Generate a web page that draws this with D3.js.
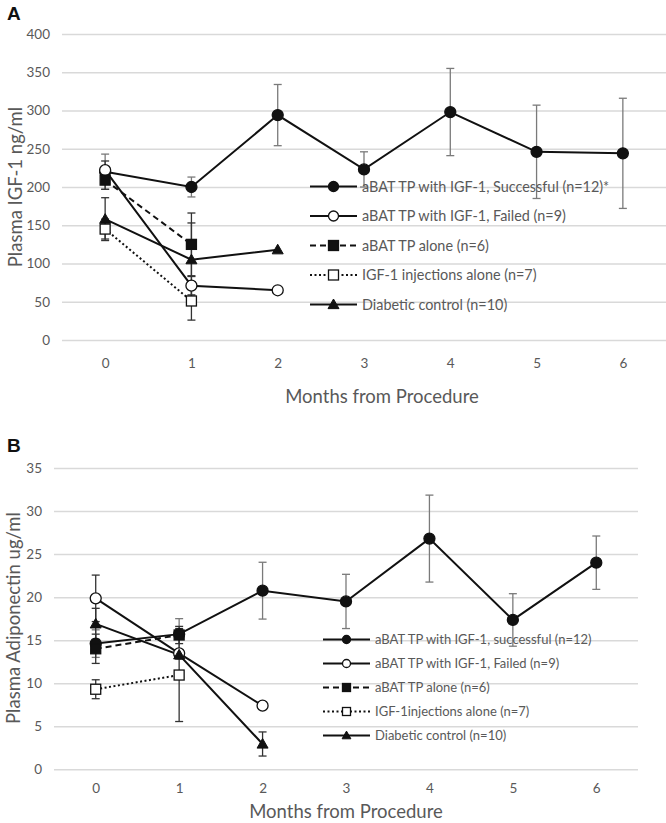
<!DOCTYPE html>
<html>
<head>
<meta charset="utf-8">
<script src="https://cdn.jsdelivr.net/npm/d3@7"></script>
<style>
  html, body { margin: 0; padding: 0; background: #fff; }
  svg { display: block; }
  text { font-family: Lato, "Open Sans", sans-serif; }
</style>
</head>
<body>
<svg id="chart" width="666" height="823"></svg>
<script>
// ---------- DATA ----------
const months = [0, 1, 2, 3, 4, 5, 6];
const seriesKeys = ["successful", "failed", "alone", "injections", "diabetic"];

// Panel A: Plasma IGF-1 ng/ml
const yTicksA = [0, 50, 100, 150, 200, 250, 300, 350, 400];
const legendA = [
  "aBAT TP with IGF-1, Successful (n=12)*",
  "aBAT TP with IGF-1, Failed (n=9)",
  "aBAT TP alone (n=6)",
  "IGF-1 injections alone (n=7)",
  "Diabetic control (n=10)"
];
const successfulA = [220, 200, 294, 223, 298, 246, 244];
const successfulErrA = [23, 13, 40, 23, 57, 61, 72];
const failedA = [222, 71, 65];
const failedErrA = [12, 12, null];
const aloneA = [209, 125];
const aloneErrA = [12, 41];
const injectionsA = [145, 51];
const injectionsErrA = [13, 25];
const diabeticA = [158, 105, 118];
const diabeticErrA = [28, 48, null];

// Panel B: Plasma Adiponectin ug/ml
const yTicksB = [0, 5, 10, 15, 20, 25, 30, 35];
const legendB = [
  "aBAT TP with IGF-1, successful (n=12)",
  "aBAT TP with IGF-1, Failed (n=9)",
  "aBAT TP alone (n=6)",
  "IGF-1injections alone (n=7)",
  "Diabetic control (n=10)"
];
const successfulB = [14.6, 15.7, 20.75, 19.5, 26.8, 17.35, 24.0];
const successfulErrB = [1.6, 1.8, 3.3, 3.15, 5.05, 3.05, 3.1];
const failedB = [19.86, 13.47, 7.39];
const failedErrB = [2.7, null, null];
const aloneB = [14.0, 15.6];
const aloneErrB = [1.7, 1.0];
const injectionsB = [9.3, 10.95];
const injectionsErrB = [1.1, 5.4];
const diabeticB = [16.9, 13.3, 2.94];
const diabeticErrB = [1.8, 0.5, 1.4];

const xTitle = "Months from Procedure";

// ---------- STYLE PER SERIES ----------
const styles = {
  successful: { marker: "circle", fill: "#111", dash: null, err: "#7a7a7a" },
  failed:     { marker: "circle", fill: "#fff", dash: null, err: "#333" },
  alone:      { marker: "square", fill: "#111", dash: "6,4", err: "#333" },
  injections: { marker: "square", fill: "#fff", dash: "2,2.5", err: "#333" },
  diabetic:   { marker: "triangle", fill: "#111", dash: null, err: "#333" }
};

const svg = d3.select("#chart");

function drawMarker(g, type, cx, cy, fill, s) {
  if (type === "circle") {
    g.append("circle").attr("cx", cx).attr("cy", cy).attr("r", s)
      .attr("fill", fill).attr("stroke", "#111").attr("stroke-width", 1.3);
  } else if (type === "square") {
    g.append("rect").attr("x", cx - s).attr("y", cy - s)
      .attr("width", 2 * s).attr("height", 2 * s)
      .attr("fill", fill).attr("stroke", "#111").attr("stroke-width", 1.3);
  } else {
    const h = s * 1.1;
    g.append("path")
      .attr("d", `M${cx},${cy - h}L${cx + h},${cy + h * 0.75}L${cx - h},${cy + h * 0.75}Z`)
      .attr("fill", fill).attr("stroke", "#111").attr("stroke-width", 1);
  }
}

function drawPanel(cfg) {
  const g = svg.append("g");
  const x = d3.scalePoint().domain(months).range([cfg.left, cfg.right]).padding(0.5);
  const y = d3.scaleLinear().domain(cfg.yDomain).range([cfg.bottom, cfg.top]);

  // gridlines + y labels
  const ya = g.append("g").attr("transform", `translate(${cfg.left},0)`)
    .call(d3.axisLeft(y).tickValues(cfg.yTicks).tickSize(-(cfg.gridRight - cfg.left)).tickPadding(cfg.yPad));
  ya.select(".domain").remove();
  ya.selectAll(".tick line").attr("stroke", "#d9d9d9").attr("stroke-width", 1.5);
  ya.selectAll(".tick text").attr("fill", "#595959").style("font-size", cfg.tickFont + "px")
    .style("font-family", "Lato, sans-serif");

  // x labels
  const xa = g.append("g").attr("transform", `translate(0,${cfg.bottom})`)
    .call(d3.axisBottom(x).tickSize(0).tickPadding(cfg.xPad));
  xa.select(".domain").remove();
  xa.selectAll(".tick text").attr("fill", "#595959").style("font-size", cfg.tickFont + "px")
    .style("font-family", "Lato, sans-serif");

  // titles
  g.append("text").attr("x", cfg.xTitleX).attr("y", cfg.xTitleY).attr("text-anchor", "middle")
    .attr("fill", "#595959").style("font-size", cfg.titleFont + "px").text(xTitle);
  g.append("text").attr("transform", `translate(${cfg.yTitleX},${cfg.yTitleY}) rotate(-90)`)
    .attr("text-anchor", "middle").attr("fill", "#595959")
    .style("font-size", cfg.titleFont + "px").text(cfg.yTitle);
  g.append("text").attr("x", cfg.labelX).attr("y", cfg.labelY)
    .style("font-family", "'Liberation Sans', Arial, sans-serif").style("font-weight", "bold")
    .style("font-size", "19px").attr("fill", "#111").text(cfg.label);

  // error bars
  seriesKeys.forEach(k => {
    const vals = cfg.data[k], errs = cfg.err[k], st = styles[k];
    vals.forEach((v, i) => {
      const e = errs[i];
      if (v == null || e == null) return;
      const cx = x(months[i]);
      const eg = g.append("g").attr("stroke", st.err).attr("stroke-width", 1.3);
      eg.append("line").attr("x1", cx).attr("x2", cx).attr("y1", y(v - e)).attr("y2", y(v + e));
      [v - e, v + e].forEach(t => eg.append("line")
        .attr("x1", cx - 4).attr("x2", cx + 4).attr("y1", y(t)).attr("y2", y(t)));
    });
  });

  // lines
  seriesKeys.forEach(k => {
    const vals = cfg.data[k], st = styles[k];
    const pts = vals.map((v, i) => [months[i], v]).filter(p => p[1] != null);
    g.append("path").datum(pts)
      .attr("d", d3.line().x(p => x(p[0])).y(p => y(p[1])))
      .attr("fill", "none").attr("stroke", "#111").attr("stroke-width", 2)
      .attr("stroke-dasharray", st.dash);
  });

  // markers
  seriesKeys.forEach(k => {
    const vals = cfg.data[k], st = styles[k];
    vals.forEach((v, i) => {
      if (v == null) return;
      drawMarker(g, st.marker, x(months[i]), y(v), st.fill, st.marker === "circle" ? cfg.ms : cfg.ms - 0.5);
    });
  });

  // legend
  cfg.legend.forEach((txt, i) => {
    const k = seriesKeys[i], st = styles[k];
    const ly = cfg.legY + i * cfg.legStep;
    g.append("line").attr("x1", cfg.legX).attr("x2", cfg.legX + cfg.legLen)
      .attr("y1", ly).attr("y2", ly).attr("stroke", "#111").attr("stroke-width", 2)
      .attr("stroke-dasharray", st.dash);
    drawMarker(g, st.marker, cfg.legX + cfg.legLen / 2, ly, st.fill, cfg.legMs);
    g.append("text").attr("x", cfg.legX + cfg.legLen + 5).attr("y", ly).attr("dy", "0.35em")
      .attr("fill", "#595959").style("font-size", cfg.legFont + "px").text(txt);
  });
}

drawPanel({
  label: "A", labelX: 7, labelY: 20,
  left: 62, right: 666, gridRight: 666, top: 34, bottom: 340,
  yDomain: [0, 400], yTicks: yTicksA, yPad: 12, xPad: 18,
  tickFont: 13.5, titleFont: 18.5,
  yTitle: "Plasma IGF-1 ng/ml", yTitleX: 22, yTitleY: 187,
  xTitleX: 382, xTitleY: 403,
  data: { successful: successfulA, failed: failedA, alone: aloneA, injections: injectionsA, diabetic: diabeticA },
  err: { successful: successfulErrA, failed: failedErrA, alone: aloneErrA, injections: injectionsErrA, diabetic: diabeticErrA },
  ms: 5.5,
  legend: legendA, legX: 310, legLen: 47, legY: 186.5, legStep: 29.5, legFont: 14.4, legMs: 5
});

drawPanel({
  label: "B", labelX: 7, labelY: 452,
  left: 54, right: 638, gridRight: 638, top: 468, bottom: 769.3,
  yDomain: [0, 35], yTicks: yTicksB, yPad: 12, xPad: 14,
  tickFont: 13.5, titleFont: 18.5,
  yTitle: "Plasma Adiponectin ug/ml", yTitleX: 20, yTitleY: 618,
  xTitleX: 346, xTitleY: 818,
  data: { successful: successfulB, failed: failedB, alone: aloneB, injections: injectionsB, diabetic: diabeticB },
  err: { successful: successfulErrB, failed: failedErrB, alone: aloneErrB, injections: injectionsErrB, diabetic: diabeticErrB },
  ms: 5.5,
  legend: legendB, legX: 323, legLen: 47, legY: 639.5, legStep: 24, legFont: 13, legMs: 4
});
</script>
</body>
</html>
